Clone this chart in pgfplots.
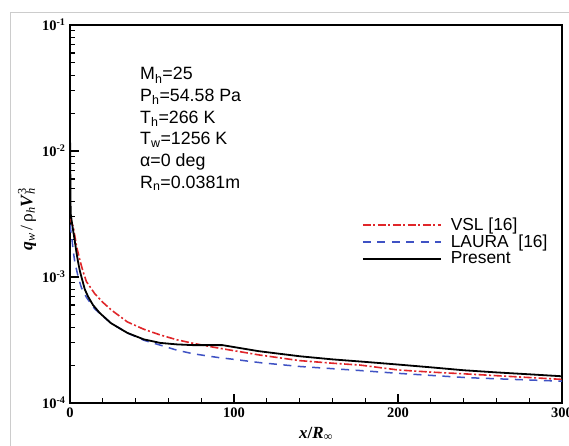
\documentclass[border=0pt]{standalone}
\usepackage{fontspec}
\setmainfont{Liberation Serif}
\newfontfamily\arial{Liberation Sans}
\usepackage{pgfplots}
\pgfplotsset{compat=1.18}
\definecolor{vslred}{HTML}{E0262A}
\definecolor{laurablue}{HTML}{3F52C4}

\begin{document}
\begin{tikzpicture}
\useasboundingbox (0pt,0pt) rectangle (569pt,445pt);
\fill[white] (0pt,0pt) rectangle (569pt,445pt);
\draw[black!20, line width=1pt] (10.5pt,-5pt) -- (10.5pt,432pt) -- (575pt,432pt);
\begin{axis}[
    at={(70pt,42pt)}, anchor=south west,
    scale only axis,
    width=492pt, height=378pt,
    ymode=log,
    xmin=0, xmax=300,
    ymin=1e-4, ymax=1e-1,
    xtick={0,100,200,300},
    minor x tick num=4,
    ytick={1e-4,1e-3,1e-2,1e-1},
    yticklabels={\textbf{10}\textsuperscript{\textbf{-4}},
                 \textbf{10}\textsuperscript{\textbf{-3}},
                 \textbf{10}\textsuperscript{\textbf{-2}},
                 \textbf{10}\textsuperscript{\textbf{-1}}},
    xticklabels={\textbf{0},\textbf{100},\textbf{200},\textbf{300}},
    minor ytick={2e-4,3e-4,4e-4,5e-4,6e-4,7e-4,8e-4,9e-4,
                 2e-3,3e-3,4e-3,5e-3,6e-3,7e-3,8e-3,9e-3,
                 2e-2,3e-2,4e-2,5e-2,6e-2,7e-2,8e-2,9e-2},
    tick pos=left,
    tick align=inside,
    major tick length=9pt,
    minor tick length=5pt,
    every tick/.style={black, line width=1.1pt},
    axis line style={line width=1.8pt},
    ticklabel style={font=\fontsize{14.5}{16}\selectfont},
    xticklabel style={yshift=-1pt},
    yticklabel style={xshift=-1pt},
    legend style={at={(0.593,0.496)}, anchor=north west, draw=none, fill=none,
        font=\arial\fontsize{17.4}{19}\selectfont, row sep=-1pt,
        inner sep=0pt, /tikz/every odd column/.append style={column sep=7pt}},
    legend cell align=left,
    legend image code/.code={\draw[#1] (0pt,0pt) -- (78pt,0pt);},
    clip=true,
]
\addplot[vslred, line width=1.6pt, dash pattern=on 8pt off 2.5pt on 2pt off 2.5pt] coordinates {
(0,2.9e-3) (1,2.7e-3) (2,2.5e-3) (4,1.75e-3) (6,1.36e-3) (8,1.1e-3)
(10,9.2e-4) (15,7.4e-4) (20,6.3e-4) (25,5.5e-4) (35,4.4e-4) (45,3.85e-4)
(55,3.47e-4) (65,3.18e-4) (75,2.98e-4) (87,2.78e-4) (100,2.6e-4)
(116,2.4e-4) (140,2.17e-4) (160,2.07e-4) (177,2.0e-4) (200,1.83e-4)
(220,1.76e-4) (242,1.70e-4) (270,1.62e-4) (300,1.54e-4)
};
\addplot[laurablue, line width=1.5pt, dash pattern=on 8pt off 6.5pt] coordinates {
(0,2.6e-3) (1,2.1e-3) (2,1.6e-3) (3,1.3e-3) (5,1.0e-3) (7,8.2e-4)
(10,6.9e-4) (15,5.6e-4) (20,4.9e-4) (25,4.3e-4) (35,3.6e-4) (45,3.15e-4)
(55,2.88e-4) (65,2.63e-4) (75,2.46e-4) (90,2.3e-4) (100,2.22e-4)
(116,2.09e-4) (140,1.95e-4) (177,1.81e-4) (200,1.72e-4) (242,1.59e-4)
(270,1.54e-4) (300,1.49e-4)
};
\addplot[black, line width=1.8pt] coordinates {
(0,1.47e-2) (0.4,3.2e-3) (1,2.8e-3) (2,2.3e-3) (3,1.9e-3) (4,1.55e-3)
(5,1.3e-3) (6,1.12e-3) (7,1.0e-3) (9,8.0e-4) (11,7.0e-4) (14,6.0e-4)
(18,5.2e-4) (25,4.3e-4) (35,3.6e-4) (45,3.2e-4) (55,3.0e-4) (65,2.92e-4)
(75,2.88e-4) (85,2.88e-4) (93,2.88e-4) (100,2.78e-4) (115,2.58e-4)
(140,2.35e-4) (160,2.22e-4) (180,2.12e-4) (200,2.02e-4) (220,1.92e-4)
(240,1.82e-4) (260,1.75e-4) (280,1.69e-4) (300,1.63e-4)
};
\legend{VSL [16], LAURA\ \ [16], Present}
\end{axis}
% annotation block
\begin{scope}[every node/.style={anchor=base west, inner sep=0pt,
    font=\arial\fontsize{17.8}{20}\selectfont}]
\node at (140pt,365pt) {M\textsubscript{h}=25};
\node at (140pt,343.4pt) {P\textsubscript{h}=54.58 Pa};
\node at (140pt,321.8pt) {T\textsubscript{h}=266 K};
\node at (140pt,300.2pt) {T\textsubscript{w}=1256 K};
\node at (140pt,278.6pt) {α=0 deg};
\node at (140pt,257pt) {R\textsubscript{n}=0.0381m};
\end{scope}
% axis titles
\node[rotate=90, anchor=center, font=\fontsize{17.5}{19}\selectfont] at (27pt,226pt)
  {\textbf{\textit{q}}\textsubscript{\textit{w}}\,/\,ρ\textsubscript{\textit{h}}\textbf{\textit{V}}\rlap{\textsuperscript{3}}\textsubscript{\textit{h}}};
\node[anchor=base, font=\fontsize{17}{19}\selectfont] at (316pt,7pt)
  {\textbf{\textit{x}/\textit{R}}\textsubscript{\textbf{∞}}};
\end{tikzpicture}
\end{document}
